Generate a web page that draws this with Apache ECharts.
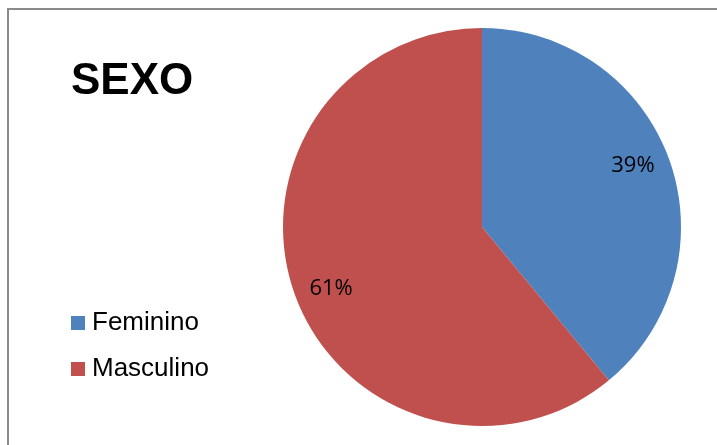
<!DOCTYPE html>
<html>
<head>
<meta charset="utf-8">
<script src="https://cdn.jsdelivr.net/npm/echarts@6/dist/echarts.min.js"></script>
<style>
  html, body { margin: 0; padding: 0; background: #fff; }
  #pie { width: 717px; height: 445px; }
</style>
</head>
<body>
<div id="pie"></div>
<script>
// data
var categories = ['Feminino', 'Masculino'];
var values = [39, 61];
var colors = ['#4F81BD', '#C0504D'];

var pieData = categories.map(function (name, i) {
    return { name: name, value: values[i], itemStyle: { color: colors[i] } };
});

var pieChart = echarts.init(document.getElementById('pie'));

var option = {
    animation: false,
    title: {
        text: 'SEXO',
        left: 66,
        top: 55,
        textStyle: {
            fontFamily: 'Liberation Sans, Arial',
            fontSize: 44,
            fontWeight: 'bold',
            color: '#000'
        }
    },
    legend: {
        orient: 'vertical',
        left: 71,
        top: 310,
        padding: 0,
        icon: 'rect',
        itemWidth: 14,
        itemHeight: 14,
        itemGap: 20,
        data: categories,
        textStyle: {
            fontFamily: 'Liberation Sans, Arial',
            fontSize: 26,
            color: '#000',
            padding: [0, 0, 0, 2]
        }
    },
    graphic: [{
        type: 'rect',
        silent: true,
        shape: { x: 8, y: 9, width: 730, height: 460 },
        style: { fill: 'none', stroke: '#8a8a8a', lineWidth: 2 }
    }],
    series: [
        {
            name: 'SEXO',
            type: 'pie',
            center: [482, 227],
            radius: 199,
            startAngle: 90,
            clockwise: true,
            label: { show: false },
            labelLine: { show: false },
            data: pieData
        },
        {
            // label ring only
            name: 'labels',
            type: 'pie',
            silent: true,
            center: [482, 227],
            radius: [121, 199],
            startAngle: 92.4,
            clockwise: true,
            itemStyle: { color: 'rgba(0,0,0,0)' },
            label: {
                show: true,
                position: 'inside',
                formatter: '{d}%',
                fontFamily: 'Open Sans, Liberation Sans',
                fontSize: 22,
                color: '#000'
            },
            labelLine: { show: false },
            data: categories.map(function (name, i) {
                return { name: name, value: values[i] };
            })
        }
    ]
};

pieChart.setOption(option);
</script>
</body>
</html>
